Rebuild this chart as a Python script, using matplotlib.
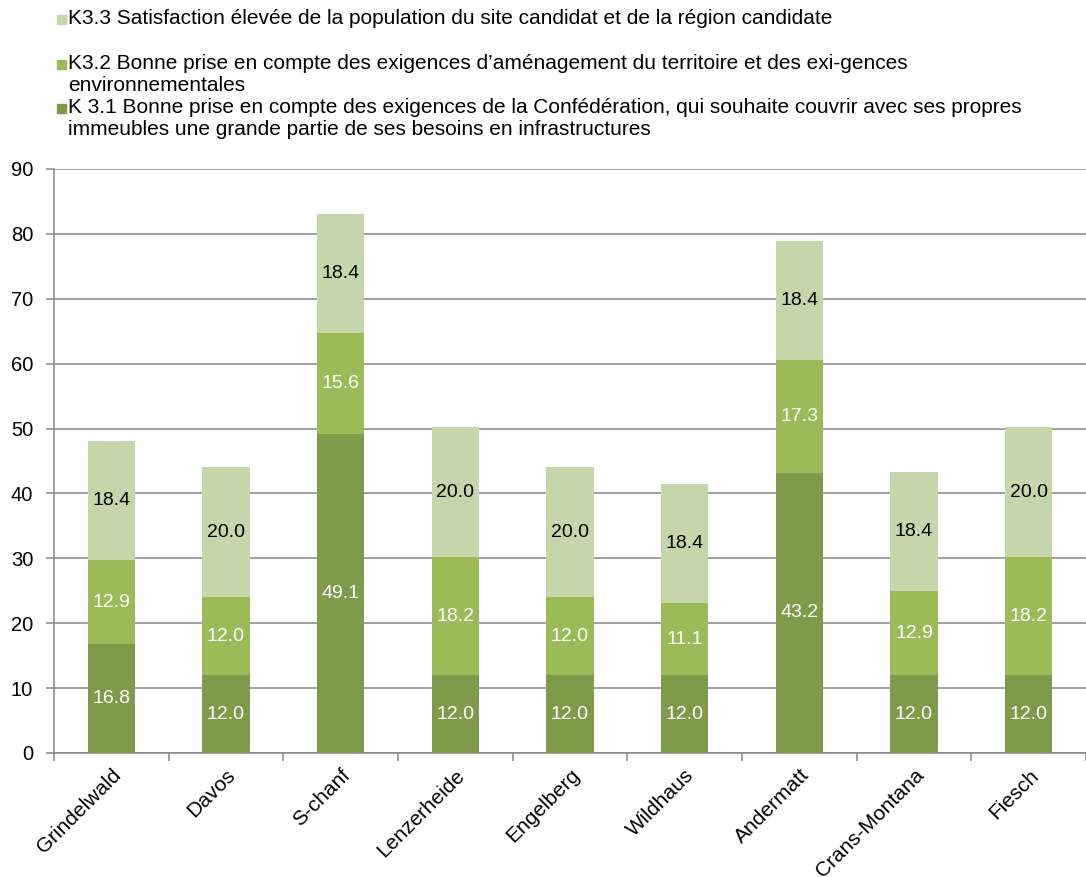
import numpy as np
import matplotlib
matplotlib.use("Agg")
import matplotlib.pyplot as plt
from matplotlib.patches import Rectangle

plt.rcParams['font.family'] = ['Liberation Sans', 'DejaVu Sans']

# Data
sites = ["Grindelwald", "Davos", "S-chanf", "Lenzerheide", "Engelberg",
         "Wildhaus", "Andermatt", "Crans-Montana", "Fiesch"]
k31 = [16.8, 12.0, 49.1, 12.0, 12.0, 12.0, 43.2, 12.0, 12.0]
k32 = [12.9, 12.0, 15.6, 18.2, 12.0, 11.1, 17.3, 12.9, 18.2]
k33 = [18.4, 20.0, 18.4, 20.0, 20.0, 18.4, 18.4, 18.4, 20.0]

legend_labels = [
    "K3.3 Satisfaction élevée de la population du site candidat et de la région candidate",
    "K3.2 Bonne prise en compte des exigences d\u2019aménagement du territoire et des exi-gences\nenvironnementales",
    "K 3.1 Bonne prise en compte des exigences de la Confédération, qui souhaite couvrir avec ses propres\nimmeubles une grande partie de ses besoins en infrastructures",
]

c_dark = "#7f9b4a"
c_mid = "#9bbb59"
c_light = "#c5d6aa"
grid_c = "#888888"

W, H = 1086, 877
fig = plt.figure(figsize=(W / 100, H / 100), dpi=100)
ax = fig.add_axes([54 / W, (H - 753) / H, (W - 54) / W, (753 - 169) / H])

x = np.arange(len(sites))
bw = 0.41
k31 = np.array(k31)
k32 = np.array(k32)
k33 = np.array(k33)

ax.bar(x, k31, bw, color=c_dark, zorder=3)
ax.bar(x, k32, bw, bottom=k31, color=c_mid, zorder=3)
ax.bar(x, k33, bw, bottom=k31 + k32, color=c_light, zorder=3)

fs_num = 14
for i in range(len(sites)):
    ax.text(x[i], k31[i] / 2, f"{k31[i]:.1f}", ha="center", va="center",
            color="white", fontsize=fs_num, zorder=4)
    ax.text(x[i], k31[i] + k32[i] / 2, f"{k32[i]:.1f}", ha="center", va="center",
            color="white", fontsize=fs_num, zorder=4)
    ax.text(x[i], k31[i] + k32[i] + k33[i] / 2, f"{k33[i]:.1f}", ha="center",
            va="center", color="black", fontsize=fs_num, zorder=4)

ax.set_ylim(0, 90)
ax.set_yticks(np.arange(0, 91, 10))
ax.set_xlim(-0.5, 8.43)
ax.yaxis.grid(True, color=grid_c, linewidth=1.1, zorder=0)
ax.set_axisbelow(True)
for s in ["top", "right"]:
    ax.spines[s].set_visible(False)
for s in ["left", "bottom"]:
    ax.spines[s].set_color(grid_c)
    ax.spines[s].set_linewidth(1.1)

ax.tick_params(axis="y", colors=grid_c, labelcolor="black", labelsize=14.5,
               length=6, width=1.1, pad=9)
# category boundary ticks
ax.set_xticks(np.arange(len(sites) + 1) - 0.5, minor=False)
ax.set_xticklabels([])
ax.tick_params(axis="x", colors=grid_c, length=6, width=1.1)
ax.set_xticks(x, minor=True)
ax.set_xticklabels(sites, minor=True, rotation=45, ha="right",
                   rotation_mode="anchor", fontsize=15)
ax.tick_params(axis="x", which="minor", length=0, pad=9, labelcolor="black")

# legend drawn manually at top
leg_colors = [c_light, c_mid, c_dark]
leg_y = [19, 64, 108]
for lab, col, yy in zip(legend_labels, leg_colors, leg_y):
    fig.patches.append(Rectangle((57 / W, 1 - (yy + 5) / H), 9 / W, 9 / H,
                                 transform=fig.transFigure, color=col))
    fig.text(68 / W, 1 - (yy - 10) / H, lab, ha="left", va="top",
             fontsize=15, linespacing=1.2)

fig.savefig("out.png", dpi=100)
